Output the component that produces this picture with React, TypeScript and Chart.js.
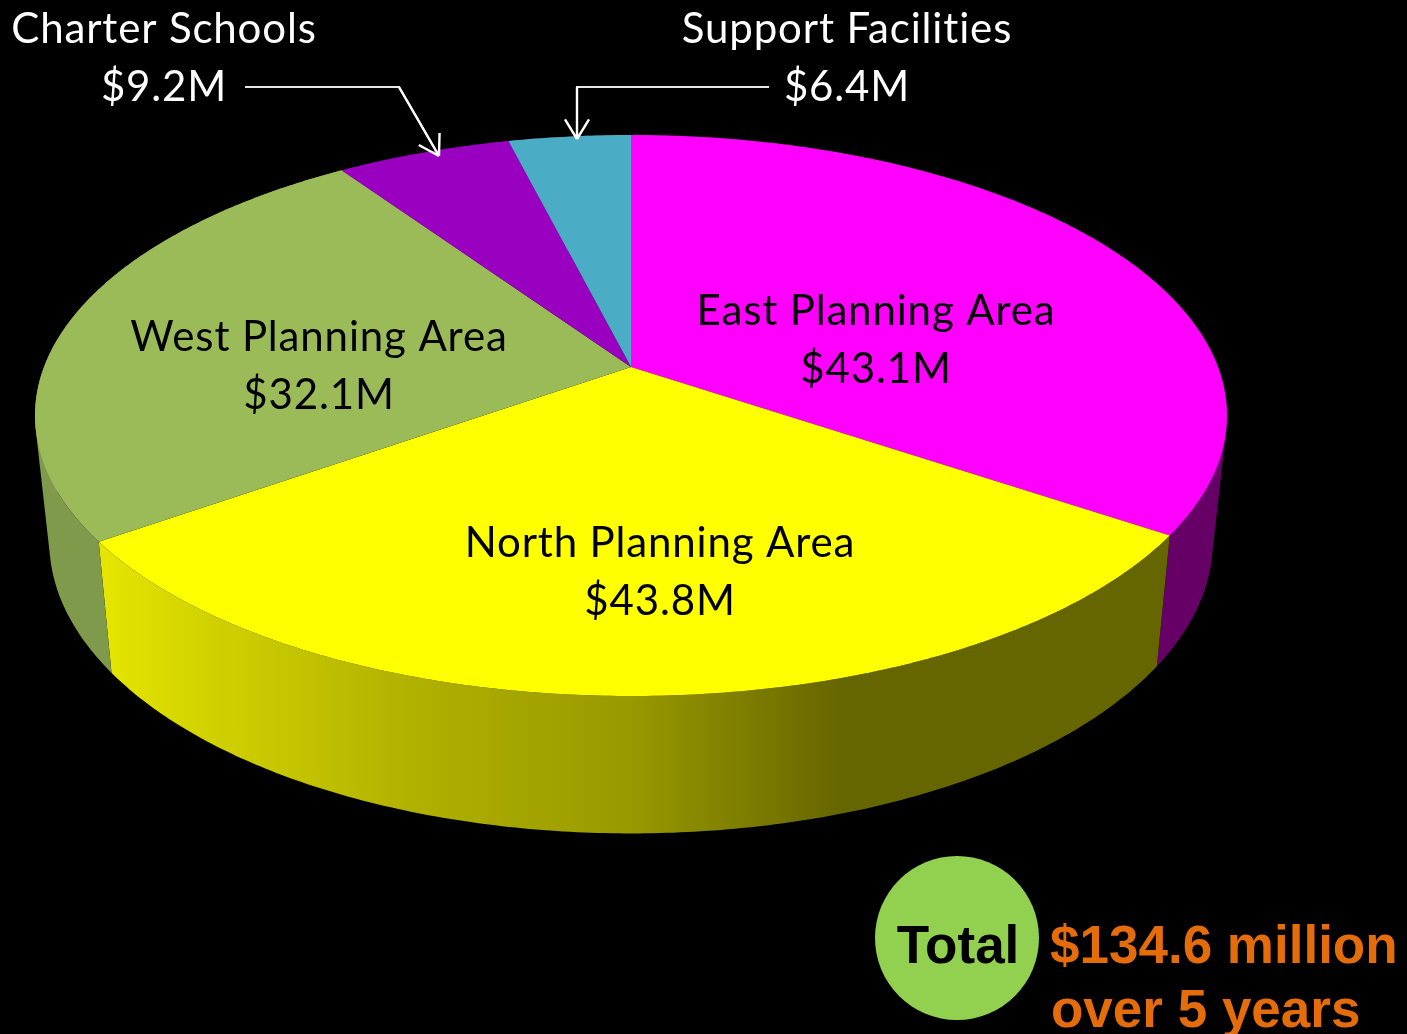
import React, { useEffect, useRef } from "react";
import { Chart, registerables } from "chart.js";

Chart.register(...registerables);

const categories = ["East Planning Area", "North Planning Area", "West Planning Area", "Charter Schools", "Support Facilities"];
const amountLabels = ["$43.1M", "$43.8M", "$32.1M", "$9.2M", "$6.4M"];
// Slice sizes as drawn in the picture (degrees); the drawn wedges are not exactly proportional to the printed amounts.
const drawnSliceDegrees = [124, 110.7, 91, 20.2, 14.1];
const faceColors = ["#ff00ff", "#ffff00", "#9bbb59", "#9900c0", "#4bacc6"];
const wallColors = ["#660066", "#666600", "#7f9a4a", "#5c0073", "#2d6777"];
const totalLabel = "Total";
const totalLines = ["$134.6 million", "over 5 years"];

const CX = 631, APEX_Y = 367, A = 587, B = 272.1, K = -0.173;
const SIDE_SCALE = 0.976, D0 = 60, D1 = 64;

function project(theta: number, r: number, bottom: boolean) {
  const x = Math.sin(theta) * r;
  const y = -Math.cos(theta) * r;
  const w = 1 + K * y;
  let X = (A * x) / w;
  let Y = APEX_Y + (B * y) / w;
  if (bottom) {
    X *= SIDE_SCALE;
    Y += D0 + D1 / w;
  }
  return [CX + X, Y];
}

const pieAngle = (a: number) => a + Math.PI / 2;

function rim(ctx: CanvasRenderingContext2D, t0: number, t1: number) {
  const n = Math.max(2, Math.ceil(Math.abs(t1 - t0) / 0.01));
  for (let i = 0; i <= n; i++) {
    const [x, y] = project(t0 + ((t1 - t0) * i) / n, 1, false);
    ctx.lineTo(x, y);
  }
}

function wall(ctx: CanvasRenderingContext2D, t0: number, t1: number) {
  // Quad strips, so that the vertical silhouette at the far left and right is filled too.
  const n = Math.max(2, Math.ceil((t1 - t0) / 0.01));
  ctx.beginPath();
  for (let i = 0; i < n; i++) {
    const a = t0 + ((t1 - t0) * i) / n;
    const b = t0 + ((t1 - t0) * (i + 1)) / n;
    const p = [project(a, 1, false), project(b, 1, false), project(b, 1, true), project(a, 1, true)];
    // keep each quad wound the same way so the nonzero fill unions them
    const area = p.reduce((s, q, k) => {
      const r = p[(k + 1) % 4];
      return s + q[0] * r[1] - r[0] * q[1];
    }, 0);
    const pts = area >= 0 ? p : [...p].reverse();
    pts.forEach(([x, y], k) => (k ? ctx.lineTo(x, y) : ctx.moveTo(x, y)));
    ctx.closePath();
  }
  ctx.fill();
}

function wallFill(ctx: CanvasRenderingContext2D, index: number) {
  if (index !== 1) return wallColors[index];
  const g = ctx.createLinearGradient(100, 0, 1157, 0);
  g.addColorStop(0, "#e6e600");
  g.addColorStop(0.1, "#d2d200");
  g.addColorStop(0.3, "#b0b000");
  g.addColorStop(0.5, "#999900");
  g.addColorStop(0.7, "#666600");
  g.addColorStop(1, "#666600");
  return g;
}

const text = (ctx: CanvasRenderingContext2D, s: string, x: number, y: number, font: string, color: string, align: CanvasTextAlign = "center", spacing = "0px") => {
  ctx.font = font;
  (ctx as any).letterSpacing = spacing;
  ctx.fillStyle = color;
  ctx.textAlign = align;
  ctx.textBaseline = "alphabetic";
  ctx.fillText(s, x, y);
};

function arrow(ctx: CanvasRenderingContext2D, pts: number[][]) {
  ctx.strokeStyle = "#e6e6e6";
  ctx.lineWidth = 2;
  ctx.beginPath();
  pts.forEach(([x, y], i) => (i ? ctx.lineTo(x, y) : ctx.moveTo(x, y)));
  ctx.stroke();
  const [x1, y1] = pts[pts.length - 2];
  const [x2, y2] = pts[pts.length - 1];
  const a = Math.atan2(y2 - y1, x2 - x1);
  ctx.strokeStyle = "#ffffff";
  ctx.lineWidth = 2.4;
  ctx.beginPath();
  ctx.moveTo(x1, y1);
  ctx.lineTo(x2, y2);
  for (const d of [-0.55, 0.55]) {
    ctx.moveTo(x2, y2);
    ctx.lineTo(x2 - 23 * Math.cos(a + d), y2 - 23 * Math.sin(a + d));
  }
  ctx.stroke();
}

const pie3d = {
  id: "pie3d",
  beforeDatasetsDraw(chart: any) {
    const { ctx } = chart;
    const arcs = chart.getDatasetMeta(0).data;
    ctx.save();
    arcs.forEach((arc: any, i: number) => {
      ctx.fillStyle = wallFill(ctx, i);
      wall(ctx, pieAngle(arc.startAngle), pieAngle(arc.endAngle));
    });
    arcs.forEach((arc: any, i: number) => {
      const t0 = pieAngle(arc.startAngle);
      const t1 = pieAngle(arc.endAngle);
      ctx.beginPath();
      ctx.moveTo(CX, APEX_Y);
      rim(ctx, t0, t1);
      ctx.closePath();
      ctx.fillStyle = faceColors[i];
      ctx.fill();
    });
    ctx.restore();
    return false;
  },
  afterDraw(chart: any) {
    const { ctx } = chart;
    ctx.save();
    const font = "42px Lato";
    const sp = "0.85px";
    text(ctx, categories[0], 876, 325, font, "#000", "center", sp);
    text(ctx, amountLabels[0], 876, 383, font, "#000", "center", sp);
    text(ctx, categories[1], 660, 557, font, "#000", "center", sp);
    text(ctx, amountLabels[1], 660, 615, font, "#000", "center", sp);
    text(ctx, categories[2], 319, 351, font, "#000", "center", sp);
    text(ctx, amountLabels[2], 319, 409, font, "#000", "center", sp);
    text(ctx, categories[3], 164, 43, font, "#fff", "center", sp);
    text(ctx, amountLabels[3], 164, 101, font, "#fff", "center", sp);
    text(ctx, categories[4], 847, 43, font, "#fff", "center", sp);
    text(ctx, amountLabels[4], 847, 101, font, "#fff", "center", sp);
    arrow(ctx, [[245, 87], [399, 87], [439, 156]]);
    arrow(ctx, [[769, 87], [577, 87], [577, 139]]);
    ctx.fillStyle = "#92d050";
    ctx.beginPath();
    ctx.arc(957, 938, 82, 0, Math.PI * 2);
    ctx.fill();
    const bold = 'bold 53px "Liberation Sans"';
    text(ctx, totalLabel, 958, 963, bold, "#000");
    text(ctx, totalLines[0], 1050, 963, bold, "#e46c0a", "left");
    text(ctx, totalLines[1], 1051, 1027, bold, "#e46c0a", "left");
    ctx.restore();
  },
};

export default function App() {
  const ref = useRef<HTMLCanvasElement>(null);
  useEffect(() => {
    document.body.style.margin = "0";
    document.body.style.background = "#000";
    const chart = new Chart(ref.current!, {
      type: "pie",
      data: {
        labels: categories,
        datasets: [{ data: drawnSliceDegrees, backgroundColor: faceColors, borderWidth: 0 }],
      },
      options: {
        responsive: false,
        animation: false,
        plugins: { legend: { display: false }, tooltip: { enabled: false } },
      },
      plugins: [pie3d],
    } as any);
    return () => chart.destroy();
  }, []);
  return <canvas ref={ref} width={1407} height={1034} style={{ display: "block", background: "#000" }} />;
}
